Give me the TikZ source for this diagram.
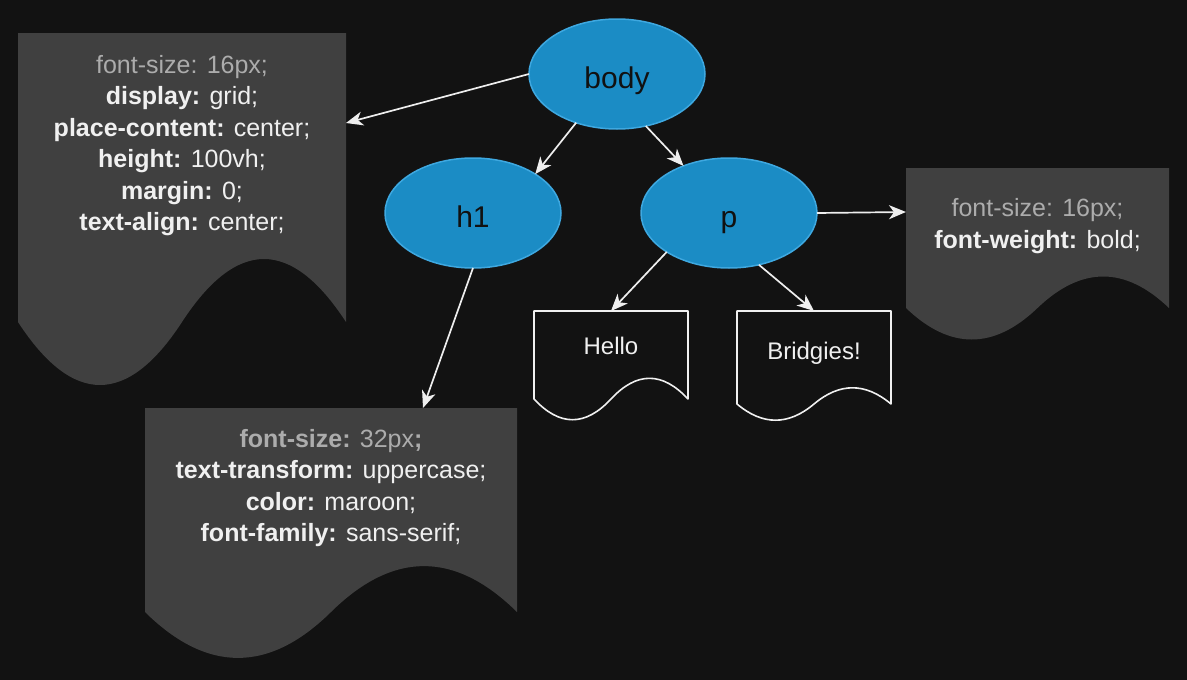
\documentclass[tikz,border=0pt]{standalone}
\usepackage{fontspec}
\setmainfont{Liberation Sans}
\usetikzlibrary{calc,shapes.geometric,arrows.meta}
\definecolor{bg}{RGB}{18,18,18}
\definecolor{docfill}{RGB}{64,64,64}
\definecolor{ellfill}{RGB}{27,140,197}
\definecolor{ellline}{RGB}{62,168,224}
\definecolor{txtgray}{RGB}{172,172,172}
\definecolor{txtwhite}{RGB}{240,240,240}
\definecolor{linecol}{RGB}{238,238,238}
\definecolor{elltext}{RGB}{17,17,17}

\newcommand{\docpath}[2]{let \p1=(#1.north west), \p2=(#1.south east), \n1={\x2-\x1} in
  (\x1,\y1) -- (\x2,\y1) -- (\x2,{\y2+0.5*#2pt})
  .. controls ({\x2-\n1/6*1pt},{\y2+1.1*#2pt}) and ({\x1+\n1*2/3*1pt},{\y2+1.1*#2pt}) .. ({\x1+\n1/2*1pt},{\y2+0.5*#2pt})
  .. controls ({\x1+\n1/3*1pt},{\y2-0.1*#2pt}) and ({\x1+\n1/6*1pt},{\y2-0.1*#2pt}) .. (\x1,{\y2+0.5*#2pt}) -- cycle}

\tikzset{
  ell/.style={ellipse, draw=ellline, fill=ellfill, line width=1.5pt, minimum width=176pt, minimum height=110pt, inner sep=0pt, outer sep=0pt, font=\fontsize{30}{36}\selectfont, text=elltext, text height=28pt, text depth=0pt},
  docbox/.style={rectangle, draw=none, inner sep=0pt, outer sep=0pt},
  doctext/.style={align=center, text=txtwhite, font=\fontsize{25}{31.4}\selectfont, inner sep=0pt},
  leaftext/.style={text=txtwhite, font=\fontsize{24}{29}\selectfont, inner sep=0pt},
  conn/.style={draw=linecol, line width=1.7pt, -{Stealth[length=17pt,width=14pt,inset=5pt]}},
  leafline/.style={draw=txtwhite, line width=1.6pt, line join=round}
}

\begin{document}
\begin{tikzpicture}[x=1pt,y=-1pt]
\fill[bg] (0,0) rectangle (1187,680);
\useasboundingbox (0,0) rectangle (1187,680);

% document shapes
\node[docbox, minimum width=328pt, minimum height=359pt] (ldoc) at (182,212.5) {};
\fill[docfill] \docpath{ldoc}{140};
\node[docbox, minimum width=372pt, minimum height=255pt] (bdoc) at (331,535.5) {};
\fill[docfill] \docpath{bdoc}{102};
\node[docbox, minimum width=263pt, minimum height=175pt] (rdoc) at (1037.5,255.5) {};
\fill[docfill] \docpath{rdoc}{70};
\node[docbox, minimum width=154pt, minimum height=111pt] (hello) at (611,366.5) {};
\draw[leafline] \docpath{hello}{46};
\node[docbox, minimum width=154pt, minimum height=111pt] (bridg) at (814,366.5) {};
\draw[leafline] \docpath{bridg}{36};

% texts
\node[doctext] (ldoctext) at (182,145.5) {{\color{txtgray}font-size: 16px;}\\
  \textbf{display:} grid;\\
  \textbf{place-content:} center;\\
  \textbf{height:} 100vh;\\
  \textbf{margin:} 0;\\
  \textbf{text-align:} center;};
\node[doctext] (bdoctext) at (331,488) {{\color{txtgray}\textbf{font-size:} 32px\textbf{;}}\\
  \textbf{text-transform:} uppercase;\\
  \textbf{color:} maroon;\\
  \textbf{font-family:} sans-serif;};
\node[doctext] (rdoctext) at (1037.5,226) {{\color{txtgray}font-size: 16px;}\\
  \textbf{font-weight:} bold;};
\node[leaftext] (hellotext) at (611,346) {Hello};
\node[leaftext] (bridgtext) at (814,353) {Bridgies!};

% ellipses
\node[ell] (body) at (617,74) {body};
\node[ell] (h1) at (473,213) {h1};
\node[ell] (p) at (729,213) {p};

% connectors
\draw[conn] (body.west) -- ($(ldoc.north east)+(0,90)$);
\draw[conn] (body.230) -- (h1.32);
\draw[conn] (body.299) -- (p.134);
\draw[conn] (h1.south) -- ($(bdoc.north)+(92,0)$);
\draw[conn] (p.east) -- ($(rdoc.north west)+(0,44)$);
\draw[conn] (p.212) -- (hello.north);
\draw[conn] (p.300) -- (bridg.north);
\end{tikzpicture}
\end{document}
